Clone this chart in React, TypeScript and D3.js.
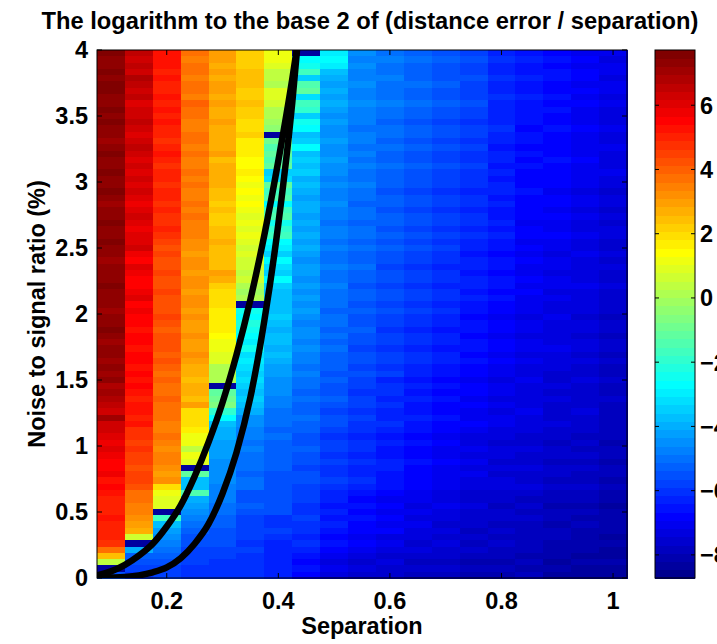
import React from 'react';
import * as d3 from 'd3';

// ---------------- data ----------------
const TITLE = 'The logarithm to the base 2 of (distance error / separation)';
const X_LABEL = 'Separation';
const Y_LABEL = 'Noise to signal ratio (%)';

const SEPARATION = [0.1, 0.15, 0.2, 0.25, 0.3, 0.35, 0.4, 0.45, 0.5, 0.55, 0.6, 0.65, 0.7, 0.75, 0.8, 0.85, 0.9, 0.95, 1.0];
const NOISE_MAX = 4;
const NOISE_ROWS = 84;

const X_TICKS = [0.2, 0.4, 0.6, 0.8, 1];
const Y_TICKS = [0, 0.5, 1, 1.5, 2, 2.5, 3, 3.5, 4];
const CBAR_TICKS = [-8, -6, -4, -2, 0, 2, 4, 6];
const C_MIN = -8.72;
const C_MAX = 7.72;

// jet level (0..63) per cell, one string per separation column, top row (noise 4) first
const LEVEL_ALPHABET = '0123456789ABCDEFGHIJKLMNOPQRSTUVWXYZabcdefghijklmnopqrstuvwxyz@#';
const COLUMN_LEVELS = [
  ['#@@#@##@@#', '@#@@z@#@@#', '@@#@z@@#@@', '#@@z@@@#@@', '@z@@#@z@@z', '@z@yzyxwzw', 'wvuvuttust', 'srrrsrrrqm', 'hZ1C'],
  ['xwxwyxwxvw', 'wxwvwxwvwv', 'wvwvuvwvuv', 'vwutvuttuv', 'tuttsttstt', 'ststsrssrs', 'qqpqppoppo', 'mmllkjia1I', 'DCBA'],
  ['sssrsrrsrs', 'rsrrqrsrqr', 'rqrrqrqqrq', 'popoopoopo', 'ooponooono', 'nmnmmnmmml', 'lmlkllkjkf', 'cbb1RJHGFE', 'DCBB'],
  ['mlmmlmmlnm', 'mllmmlmllm', 'lmllmlmlll', 'kkjkkjkkjk', 'kjkjjkjjkj', 'iihiihjfff', 'eccZcb1TJJ', 'SIHGFEDCCB', 'BBAA'],
  ['jjijijjiji', 'ijiiiijhii', 'iihhghgghh', 'ihhhhjigff', 'feeeedccbb', 'YYY1TUVQNJ', 'IIHHHGGGGF', 'FFEEDDCCCB', 'BAAA'],
  ['ggghhhgghg', 'gffgeeedde', 'dcdcdcbcbc', 'babaaZaYXY', '1ONPONMOLM', 'LKLKJKJIGG', 'FFEFEEEDEE', 'CCDCBBBBAB', 'AAAA'],
  ['ccbZZYbbaY', 'YXW1USTSTK', 'LTRSNRSOQR', 'NMKNLKNKJJ', 'JJKJIJJIJI', 'HHGGGFFEEE', 'DEDDDDDCCC', 'CCCCAABA99', '9999'],
  ['1NORKSTLRQ', 'KONJKNJKJK', 'IJIHIIHIHI', 'HIHGHHGHGH', 'GHGFGGFGFF', 'EFEEDEDDED', 'DCCDCCBCCB', 'BBAABAA9A9', '8787'],
  ['MNMJIHIHIH', 'GHGGHGGHGG', 'FGFFGFFEFF', 'EFEEFEEFEE', 'EDEEDEDEDD', 'DCDCCDCBCC', 'BABBABAABA', '9989898787', '6565'],
  ['GFGFFGFFGF', 'FFEFFEFEFE', 'EFEEDEEDEE', 'DEDDEDDCDD', 'CDCCDCCBCC', 'BCBBABBABA', 'A9AA9A99A9', '8787877676', '5454'],
  ['EFEEFEEEFE', 'EDEEDEDDED', 'DDCDDCDDCD', 'CDCCBCCBCC', 'BCBBABBABB', 'AB9AA9A99A', '9898899888', '7676767565', '4544'],
  ['DEDDDEDDED', 'DCDDCDCCDC', 'CCBCCBCCBC', 'BCBBABBABB', 'ABAA9AA9AA', '9989898898', '8787787777', '6656565545', '4343'],
  ['CDCCCDCCDC', 'CBCCBCBBCB', 'BBABBABBAB', 'ABAA9AA9AA', '9A99899899', '8878787787', '7676676666', '5565545454', '4343'],
  ['BCBBCBBBCB', 'BABBABAABA', 'AA9AA9AA9A', '9989989989', '8878878878', '7767767667', '6556565655', '4454443434', '3232'],
  ['9A99A99A99', '99A9989989', '8998988989', '8878878878', '7767767767', '6656656566', '5545545455', '4434434343', '3232'],
  ['8988988988', '8878878787', '7787777677', '6767667676', '6656656656', '5565555655', '5445445445', '4343433333', '2323'],
  ['7878877878', '7787777877', '7767767667', '6656656656', '5565555655', '5445454445', '4434434434', '3323323322', '2121'],
  ['6767767676', '6676666766', '6656656556', '5565555655', '5545545545', '4454444544', '4343434334', '3323232222', '1211'],
  ['6566566565', '5565565556', '5545545455', '4454544544', '4434434434', '3343343333', '3323323323', '2212222121', '1211'],
];

const CURVE_A_X = [0.075, 0.1, 0.125, 0.15, 0.175, 0.2, 0.225, 0.25, 0.275, 0.3, 0.325, 0.35, 0.375, 0.4, 0.425, 0.44];
const CURVE_A_Y = [0.02, 0.05, 0.1, 0.17, 0.26, 0.39, 0.55, 0.77, 1.03, 1.33, 1.69, 2.11, 2.6, 3.16, 3.78, 4.2];
const CURVE_B_X = [0.075, 0.1, 0.125, 0.15, 0.175, 0.2, 0.225, 0.25, 0.275, 0.3, 0.325, 0.35, 0.375, 0.4, 0.425, 0.44];
const CURVE_B_Y = [0.0, 0.003, 0.008, 0.02, 0.043, 0.08, 0.15, 0.26, 0.41, 0.64, 0.95, 1.37, 1.95, 2.68, 3.6, 4.3];

// ---------------- colormap (MATLAB jet, 64) ----------------
function jet64(): string[] {
  const m = 64;
  const n = Math.ceil(m / 4);
  const u: number[] = [];
  for (let i = 1; i <= n; i++) u.push(i / n);
  for (let i = 1; i < n; i++) u.push(1);
  for (let i = n; i >= 1; i--) u.push(i / n);
  const gOff = Math.ceil(n / 2) - (m % 4 === 1 ? 1 : 0);
  const R = new Array(m).fill(0), G = new Array(m).fill(0), B = new Array(m).fill(0);
  u.forEach((val, k) => {
    const g = gOff + k + 1;
    const r = g + n;
    const b = g - n;
    if (r >= 1 && r <= m) R[r - 1] = val;
    if (g >= 1 && g <= m) G[g - 1] = val;
    if (b >= 1 && b <= m) B[b - 1] = val;
  });
  return R.map((_, i) => d3.rgb(R[i] * 255, G[i] * 255, B[i] * 255).formatHex());
}
const JET = jet64();

const FONT = "'Liberation Sans', Arial, Helvetica, sans-serif";

export default function App() {
  const W = 717, H = 644;
  const left = 97, right = 627, top = 50, bottom = 578;
  const x = d3.scaleLinear().domain([0.075, 1.025]).range([left, right]);
  const y = d3.scaleLinear().domain([0, NOISE_MAX]).range([bottom, top]);
  const cb = { x0: 655, x1: 695 };
  const cy = d3.scaleLinear().domain([C_MIN, C_MAX]).range([bottom, top]);
  const colorIndex = (v: number) => Math.max(0, Math.min(63, Math.floor(((v - C_MIN) / (C_MAX - C_MIN)) * 64)));

  const halfW = (SEPARATION[1] - SEPARATION[0]) / 2;
  const rowStep = NOISE_MAX / NOISE_ROWS;

  const cells: JSX.Element[] = [];
  COLUMN_LEVELS.forEach((segs, ci) => {
    const str = segs.join('');
    const sep = SEPARATION[ci];
    const x0 = x(sep - halfW), x1 = x(sep + halfW);
    for (let t = 0; t < str.length; t++) {
      const lvl = LEVEL_ALPHABET.indexOf(str[t]);
      const value = C_MIN + ((lvl + 0.5) * (C_MAX - C_MIN)) / 64;
      const yTop = y(NOISE_MAX - t * rowStep);
      const yBot = y(NOISE_MAX - (t + 1) * rowStep);
      cells.push(
        <rect key={`${ci}-${t}`} x={x0} y={yTop} width={x1 - x0 + 0.5} height={yBot - yTop + 0.5}
          fill={JET[colorIndex(value)]} />
      );
    }
  });

  const line = d3.line<[number, number]>().x(d => x(d[0])).y(d => y(d[1])).curve(d3.curveMonotoneX);
  const curveA = line(CURVE_A_X.map((v, i) => [v, CURVE_A_Y[i]] as [number, number])) || '';
  const curveB = line(CURVE_B_X.map((v, i) => [v, CURVE_B_Y[i]] as [number, number])) || '';

  const bandH = (bottom - top) / 64;
  const tickLen = 5;
  const fs = 23.5;

  return (
    <svg width={W} height={H} style={{ position: 'absolute', left: 0, top: 0, background: '#fff' }}
      fontFamily={FONT} fontWeight="bold">
      <defs>
        <clipPath id="plotclip">
          <rect x={left} y={top} width={right - left} height={bottom - top} />
        </clipPath>
      </defs>
      <rect x={0} y={0} width={W} height={H} fill="#fff" />
      <g shapeRendering="crispEdges">{cells}</g>
      <g clipPath="url(#plotclip)">
        <path d={curveA} fill="none" stroke="#000" strokeWidth={6.5} strokeLinejoin="round" />
        <path d={curveB} fill="none" stroke="#000" strokeWidth={6.5} strokeLinejoin="round" />
      </g>
      {/* axes box */}
      <rect x={left} y={top} width={right - left} height={bottom - top} fill="none" stroke="#000" strokeWidth={1} />
      {X_TICKS.map(t => (
        <g key={`xt${t}`}>
          <line x1={x(t)} x2={x(t)} y1={bottom} y2={bottom - tickLen} stroke="#000" />
          <line x1={x(t)} x2={x(t)} y1={top} y2={top + tickLen} stroke="#000" />
          <text x={x(t)} y={609} textAnchor="middle" fontSize={fs}>{t === 1 ? '1' : t.toFixed(1)}</text>
        </g>
      ))}
      {Y_TICKS.map(t => (
        <g key={`yt${t}`}>
          <line x1={left} x2={left + tickLen} y1={y(t)} y2={y(t)} stroke="#000" />
          <line x1={right} x2={right - tickLen} y1={y(t)} y2={y(t)} stroke="#000" />
          <text x={88} y={y(t)} dy="0.36em" textAnchor="end" fontSize={fs}>{String(t)}</text>
        </g>
      ))}
      <text x={362} y={634} textAnchor="middle" fontSize={fs}>{X_LABEL}</text>
      <text transform={`translate(45,${(top + bottom) / 2}) rotate(-90)`} textAnchor="middle" fontSize={fs}>{Y_LABEL}</text>
      <text x={370} y={29} textAnchor="middle" fontSize={23.7}>{TITLE}</text>
      {/* colorbar */}
      <g shapeRendering="crispEdges">
        {JET.map((c, i) => (
          <rect key={`cb${i}`} x={cb.x0} y={bottom - (i + 1) * bandH} width={cb.x1 - cb.x0} height={bandH + 0.5} fill={c} />
        ))}
      </g>
      <rect x={cb.x0} y={top} width={cb.x1 - cb.x0} height={bottom - top} fill="none" stroke="#000" strokeWidth={1} />
      {CBAR_TICKS.map(t => (
        <g key={`ct${t}`}>
          <line x1={cb.x0} x2={cb.x0 + 4} y1={cy(t)} y2={cy(t)} stroke="#000" />
          <line x1={cb.x1} x2={cb.x1 - 4} y1={cy(t)} y2={cy(t)} stroke="#000" />
          <text x={700} y={cy(t)} dy="0.36em" textAnchor="start" fontSize={fs}>{t < 0 ? `\u2212${-t}` : String(t)}</text>
        </g>
      ))}
    </svg>
  );
}
